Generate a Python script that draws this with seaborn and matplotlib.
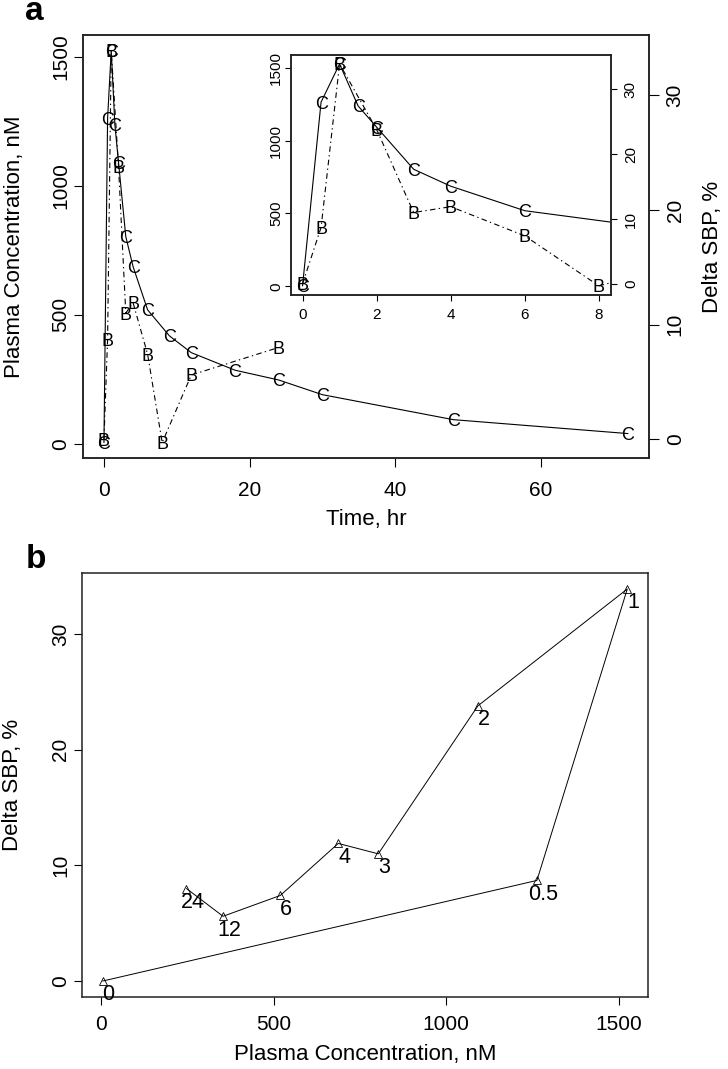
import numpy as np
import pandas as pd
import seaborn as sns
import matplotlib.pyplot as plt

# ---- data ----
# plasma concentration (C), nM
c_time = [0, 0.5, 1, 1.5, 2, 3, 4, 6, 9, 12, 18, 24, 30, 48, 72]
c_conc = [4, 1263, 1525, 1237, 1092, 803, 687, 519, 418, 353, 285, 247, 190, 93, 39]

# delta systolic blood pressure (B), %
b_time = [0, 0.5, 1, 2, 3, 4, 6, 8, 12, 24]
b_sbp = [0.0, 8.7, 33.9, 23.8, 11.0, 11.9, 7.4, -0.3, 5.6, 8.0]

# hysteresis loop in panel b (times with both measurements)
loop_time = [0, 0.5, 1, 2, 3, 4, 6, 12, 24]
loop_labels = ['0', '0.5', '1', '2', '3', '4', '6', '12', '24']

conc_ticks = [0, 500, 1000, 1500]
sbp_ticks = [0, 10, 20, 30]
time_ticks = [0, 20, 40, 60]
inset_time_ticks = [0, 2, 4, 6, 8]

df_c = pd.DataFrame({'time': c_time, 'conc': c_conc})
df_b = pd.DataFrame({'time': b_time, 'sbp': b_sbp})
c_lookup = dict(zip(c_time, c_conc))
b_lookup = dict(zip(b_time, b_sbp))
df_loop = pd.DataFrame({'conc': [c_lookup[t] for t in loop_time],
                        'sbp': [b_lookup[t] for t in loop_time],
                        'label': loop_labels})

sns.set_style('ticks')
plt.rcParams['font.family'] = ['Liberation Sans', 'DejaVu Sans']
plt.rcParams['axes.linewidth'] = 1.1
plt.rcParams['axes.edgecolor'] = '#222222'
plt.rcParams['text.color'] = 'black'
plt.rcParams['axes.labelcolor'] = 'black'
plt.rcParams['xtick.color'] = 'black'
plt.rcParams['ytick.color'] = 'black'


def r_lim(vals):
    # R's default 4% range extension
    lo, hi = min(vals), max(vals)
    pad = 0.04 * (hi - lo)
    return lo - pad, hi + pad


def letters(ax, xs, ys, ch, size, clip=False):
    for x, y in zip(xs, ys):
        ax.text(x, y, ch, ha='center', va='center_baseline', fontsize=size,
                clip_on=clip, zorder=5)


dashdot = (0, (5, 3, 1.2, 3))
fig = plt.figure(figsize=(7.28, 10.69), dpi=100)

# ======================= panel a =======================
ax = fig.add_axes([0.1140, 0.5713, 0.7775, 0.3960])
tw = ax.twinx()
sns.lineplot(data=df_c, x='time', y='conc', ax=ax, sort=False, estimator=None,
             color='black', lw=0.8)
sns.lineplot(data=df_b, x='time', y='sbp', ax=tw, sort=False, estimator=None,
             color='black', lw=0.8, linestyle=dashdot)
letters(ax, c_time, c_conc, 'C', 13)
letters(tw, b_time, b_sbp, 'B', 13)
ax.set_xlim(r_lim(c_time))
ax.set_ylim(r_lim(c_conc))
tw.set_ylim(r_lim(b_sbp))
ax.set_xticks(time_ticks, [str(v) for v in time_ticks])
ax.set_yticks(conc_ticks, [str(v) for v in conc_ticks], rotation=90, va='center')
tw.set_yticks(sbp_ticks, [str(v) for v in sbp_ticks], rotation=90, va='center')
ax.tick_params(axis='x', length=6.5, width=0.8, pad=9.5, labelsize=15)
ax.tick_params(axis='y', length=6.5, width=0.8, pad=2.5, labelsize=15)
tw.tick_params(axis='y', length=7, width=0.8, pad=5, labelsize=15)
ax.set_xlabel('Time, hr', fontsize=16)
ax.set_ylabel('Plasma Concentration, nM', fontsize=16)
tw.set_ylabel('Delta SBP, %', fontsize=16)
ax.xaxis.set_label_coords(0.5, -0.12)
ax.yaxis.set_label_coords(-0.103, 0.5)
tw.yaxis.set_label_coords(1.093, 0.5)

# inset: first 8 hours
ins = fig.add_axes([0.3993, 0.7243, 0.4396, 0.2242])
ins.set_facecolor('white')
itw = ins.twinx()
sns.lineplot(data=df_c, x='time', y='conc', ax=ins, sort=False, estimator=None,
             color='black', lw=0.8)
sns.lineplot(data=df_b, x='time', y='sbp', ax=itw, sort=False, estimator=None,
             color='black', lw=0.8, linestyle=dashdot)
letters(ins, c_time, c_conc, 'C', 13, clip=True)
letters(itw, b_time, b_sbp, 'B', 13, clip=True)
ins.set_xlim(r_lim(inset_time_ticks))
ins.set_ylim(r_lim(c_conc))
itw.set_ylim(r_lim(b_sbp))
ins.set_xticks(inset_time_ticks, [str(v) for v in inset_time_ticks])
ins.set_yticks(conc_ticks, [str(v) for v in conc_ticks], rotation=90, va='center')
itw.set_yticks(sbp_ticks, [str(v) for v in sbp_ticks], rotation=90, va='center')
ins.tick_params(axis='x', length=4.5, width=0.8, pad=5, labelsize=11)
ins.tick_params(axis='y', length=4.5, width=0.8, pad=1, labelsize=11)
itw.tick_params(axis='y', length=4.5, width=0.8, pad=5, labelsize=11)
ins.set_xlabel('')
ins.set_ylabel('')
itw.set_ylabel('')

fig.text(0.035, 1 - 20 / 1069, 'a', fontsize=24, fontweight='bold',
         ha='left', va='baseline')

# ======================= panel b =======================
bx = fig.add_axes([0.1122, 0.0676, 0.7783, 0.3961])
sns.lineplot(data=df_loop, x='conc', y='sbp', ax=bx, sort=False, estimator=None,
             color='black', lw=0.7, marker='^', markersize=5.5,
             markerfacecolor='none', markeredgecolor='black', markeredgewidth=0.6)
for _, row in df_loop.iterrows():
    bx.annotate(row['label'], (row['conc'], row['sbp']), xytext=(4.3, -2.4),
                textcoords='offset points', ha='center', va='top', fontsize=15.5)
bx.set_xlim(r_lim(df_loop['conc']))
bx.set_ylim(r_lim(df_loop['sbp']))
bx.set_xticks(conc_ticks, [str(v) for v in conc_ticks])
bx.set_yticks(sbp_ticks, [str(v) for v in sbp_ticks], rotation=90, va='center')
bx.tick_params(axis='x', length=6, width=0.8, pad=7.5, labelsize=15)
bx.tick_params(axis='y', length=6, width=0.8, pad=2.5, labelsize=15)
bx.set_xlabel('Plasma Concentration, nM', fontsize=16)
bx.set_ylabel('Delta SBP, %', fontsize=16)
bx.xaxis.set_label_coords(0.5, -0.111)
bx.yaxis.set_label_coords(-0.1036, 0.5)

fig.text(0.035, 1 - 568 / 1069, 'b', fontsize=24, fontweight='bold',
         ha='left', va='baseline')

fig.savefig('out.png', dpi=100)
